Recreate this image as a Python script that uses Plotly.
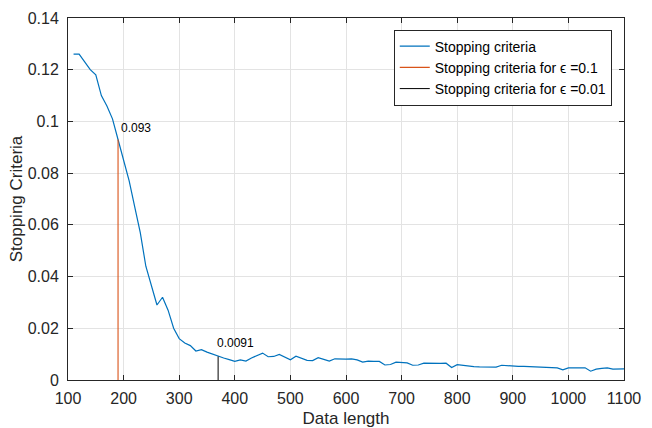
import plotly.graph_objects as go

data_length = list(range(110, 1101, 10))
stopping = [
    0.126, 0.126, 0.123, 0.120, 0.118, 0.110, 0.106, 0.101, 0.093, 0.085,
    0.077, 0.067, 0.057, 0.044, 0.036, 0.029, 0.032, 0.027, 0.020, 0.016,
    0.0143, 0.0133, 0.0112, 0.0117, 0.0108, 0.0100, 0.0091, 0.0085, 0.0079, 0.0072,
    0.0078, 0.0073, 0.0085, 0.0095, 0.0104, 0.0090, 0.0091, 0.0099, 0.0088, 0.0078,
    0.0092, 0.0084, 0.0076, 0.0075, 0.0086, 0.0080, 0.0073, 0.0082, 0.0081, 0.0081,
    0.0082, 0.0078, 0.0069, 0.0073, 0.0072, 0.0072, 0.0058, 0.0060, 0.0069, 0.0068,
    0.0066, 0.0057, 0.0058, 0.0065, 0.0064, 0.0063, 0.0064, 0.0065, 0.0048, 0.0059,
    0.0056, 0.0053, 0.0052, 0.0051, 0.0051, 0.0050, 0.0050, 0.0057, 0.0055, 0.0053,
    0.0053, 0.0053, 0.0052, 0.0053, 0.0051, 0.0050, 0.0048, 0.0047, 0.0039, 0.0047,
    0.0047, 0.0047, 0.0047, 0.0034, 0.0042, 0.0045, 0.0047, 0.0042, 0.0043, 0.0043,
]

eps1_x = [190, 190]
eps1_y = [0, 0.093]
eps2_x = [370, 370]
eps2_y = [0, 0.0091]
eps1_label = "0.093"
eps2_label = "0.0091"

x_ticks = list(range(100, 1101, 100))
y_ticks = [0, 0.02, 0.04, 0.06, 0.08, 0.1, 0.12, 0.14]
y_tick_text = ["0", "0.02", "0.04", "0.06", "0.08", "0.1", "0.12", "0.14"]

FONT = "Liberation Sans, Arial, Helvetica, sans-serif"
AX = "#262626"

fig = go.Figure()
fig.add_trace(go.Scatter(x=data_length, y=stopping, mode="lines",
                         name="Stopping criteria",
                         line=dict(color="#0072BD", width=1.2)))
fig.add_trace(go.Scatter(x=eps1_x, y=eps1_y, mode="lines",
                         name="Stopping criteria for ϵ =0.1",
                         line=dict(color="#D95319", width=1.1)))
fig.add_trace(go.Scatter(x=eps2_x, y=eps2_y, mode="lines",
                         name="Stopping criteria for ϵ =0.01",
                         line=dict(color="#000000", width=1)))

fig.add_annotation(x=eps1_x[1], y=eps1_y[1], text=eps1_label, showarrow=False,
                   xanchor="left", yanchor="bottom", xshift=1, yshift=3,
                   font=dict(size=12, color="#000000", family=FONT))
fig.add_annotation(x=eps2_x[1], y=eps2_y[1], text=eps2_label, showarrow=False,
                   xanchor="left", yanchor="bottom", xshift=-3, yshift=4,
                   font=dict(size=12, color="#000000", family=FONT))

axis_common = dict(
    showline=True, linecolor=AX, linewidth=1, mirror="ticks",
    ticks="inside", ticklen=5, tickcolor=AX, tickwidth=1,
    showgrid=True, gridcolor="#e3e3e3", gridwidth=1,
    zeroline=False, automargin=False,
    tickfont=dict(size=16, color=AX, family=FONT),
)

fig.update_xaxes(range=[100, 1100], tickvals=x_ticks,
                 title=dict(text="Data length", font=dict(size=17, color=AX, family=FONT), standoff=5),
                 ticklabelstandoff=4, **axis_common)
fig.update_yaxes(range=[0, 0.14], tickvals=y_ticks, ticktext=y_tick_text,
                 title=dict(text="Stopping Criteria", font=dict(size=17, color=AX, family=FONT), standoff=0),
                 ticklabelstandoff=5, **axis_common)

fig.update_layout(
    width=652, height=428,
    margin=dict(l=68, r=28, t=18, b=48),
    paper_bgcolor="white", plot_bgcolor="white",
    font=dict(family=FONT, color=AX),
    legend=dict(x=0.978, y=0.968, xanchor="right", yanchor="top",
                bgcolor="white", bordercolor=AX, borderwidth=1,
                font=dict(size=14, color="#000000", family=FONT),
                itemwidth=30, tracegroupgap=0),
    showlegend=True,
)

fig.write_html("out.html", config={"displayModeBar": False},
               post_script="document.body.style.margin='0';document.body.style.overflow='hidden';")
